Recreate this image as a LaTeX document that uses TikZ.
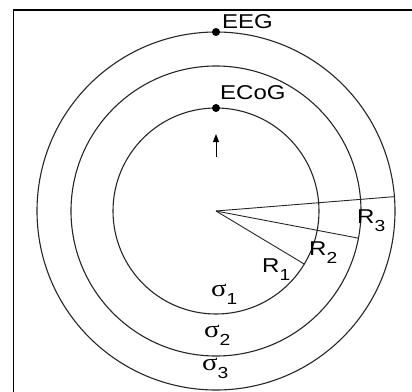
\documentclass[tikz,border=0pt]{standalone}
\usepackage{graphicx}
\usepackage{fontspec}
\setmainfont{Liberation Sans}
\newfontfamily\sigmafont{Liberation Serif}
\newcommand\largo[1]{\scalebox{1.2}[1]{#1}}
\newcommand\pedice[1]{\raisebox{-8pt}{\fontsize{16pt}{16pt}\rmfamily #1}}
\usetikzlibrary{arrows.meta,calc}

\begin{document}
\begin{tikzpicture}[
  x=1pt, y=-1pt,
  guscio/.style={draw=black!85, line width=1.1pt},
  raggio/.style={draw=black!85, line width=0.9pt},
  elettrodo/.style={circle, fill=black, inner sep=0pt, minimum size=8pt},
  etichetta/.style={inner sep=0pt, anchor=base west,
                    font=\fontsize{20pt}{22pt}\selectfont},
  strato/.style={inner sep=0pt, anchor=base west,
                 font=\fontsize{24pt}{26pt}\selectfont}
]

% ---- area del disegno -----------------------------------------------
\useasboundingbox (0,0) rectangle (412,391);
\clip (0,0) rectangle (412,391);
\draw[black, line width=1.5pt] (13.5,10) rectangle (440,420);

% ---- gusci: cervello, cranio, scalpo --------------------------------
\coordinate (o) at (216,211);
\draw[guscio] (o) circle[radius=103];   % sigma 1
\draw[guscio] (o) circle[radius=145];   % sigma 2
\draw[guscio] (o) circle[radius=179];   % sigma 3

% ---- raggi ----------------------------------------------------------
\coordinate (r1) at ($(o)+(31:103)$);
\coordinate (r2) at ($(o)+(10.8:145)$);
\coordinate (r3) at ($(o)+(-4.6:179)$);
\draw[raggio] (o) -- (r1);
\draw[raggio] (o) -- (r2);
\draw[raggio] (o) -- (r3);

\node[etichetta] (lr1) at (262,272) {\largo{R\pedice{1}}};
\node[etichetta] (lr2) at (309,255) {\largo{R\pedice{2}}};
\node[etichetta] (lr3) at (357,223) {\largo{R\pedice{3}}};

% ---- elettrodi ------------------------------------------------------
\node[elettrodo] (eeg)  at ($(o)+(-90:179)$) {};
\node[elettrodo] (ecog) at ($(o)+(-90:103)$) {};
\node[etichetta] (teeg)  at ([shift={(6,-3.5)}]eeg.center)  {\largo{EEG}};
\node[etichetta] (tecog) at ([shift={(4,-8.7)}]ecog.center) {\largo{ECoG}};

% ---- dipolo ---------------------------------------------------------
\coordinate (dip) at (216,157);
\coordinate (diptip) at (216,134);
\draw[line width=1pt, -{Triangle[length=8pt, width=6pt]}] (dip) -- (diptip);

% ---- conducibilita' -------------------------------------------------
\node[strato] (s1) at (211,296) {\largo{{\sigmafont σ}\pedice{1}}};
\node[strato] (s2) at (204,337) {\largo{{\sigmafont σ}\pedice{2}}};
\node[strato] (s3) at (202,370) {\largo{{\sigmafont σ}\pedice{3}}};

\end{tikzpicture}
\end{document}
